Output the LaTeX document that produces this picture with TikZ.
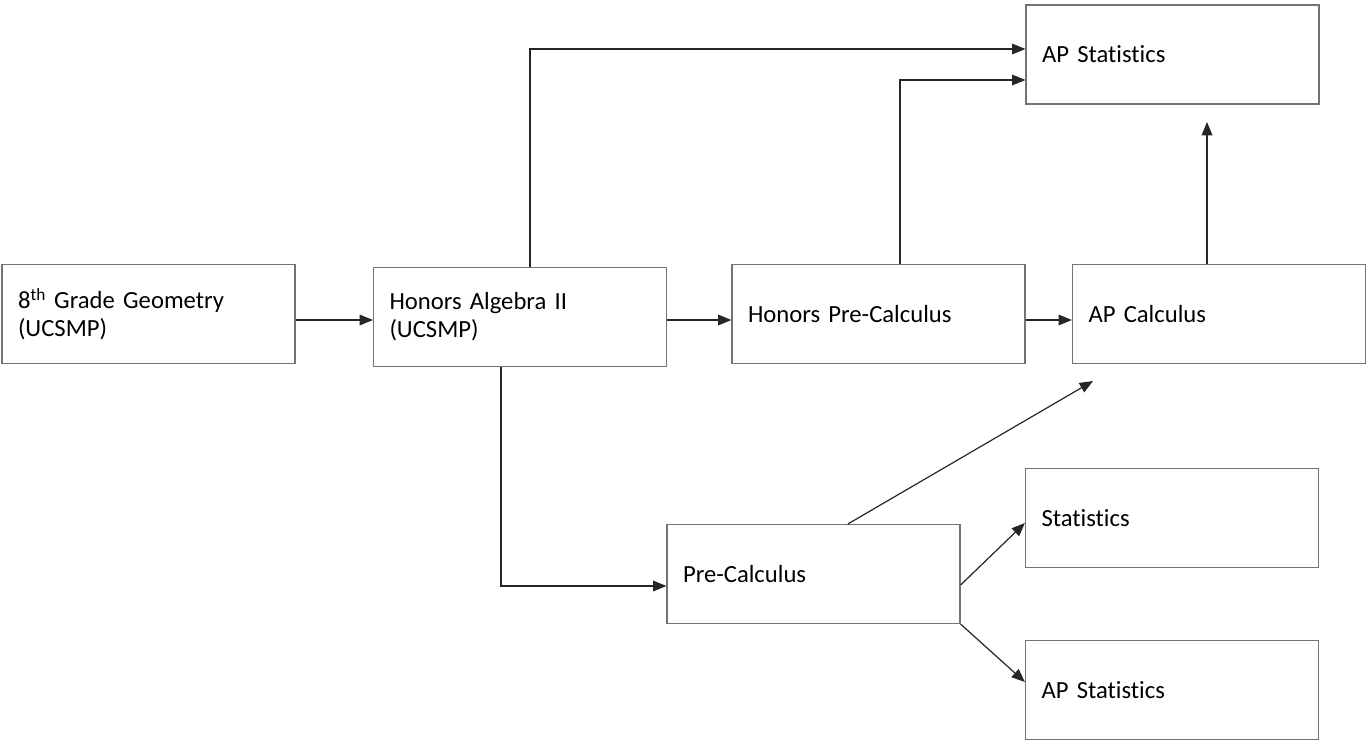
\documentclass[tikz,border=0pt]{standalone}
\usepackage{fontspec}
\setmainfont{Carlito}[Ligatures=NoCommon,WordSpace=0.8]
\usetikzlibrary{arrows.meta}
\begin{document}
\begin{tikzpicture}[x=0.75pt,y=-0.75pt,
  course/.style={draw=black!55,line width=0.9pt,rectangle,
    minimum width=219.75pt,minimum height=74.25pt,
    text width=195.75pt,align=left,inner xsep=12pt,inner ysep=0pt,
    font=\fontsize{18.5}{21}\selectfont},
  arr/.style={draw=black!85,line width=0.9pt,-{Triangle[length=10pt,width=8pt]}}]
\useasboundingbox[fill=white] (0,0) rectangle (1366,740);
% boxes
\node[course] (geo)  at (148.5,314) {8\textsuperscript{th} Grade Geometry\\(UCSMP)};
\node[course] (alg)  at (520,317)   {Honors Algebra II\\(UCSMP)};
\node[course] (hpc)  at (878.5,314) {Honors Pre-Calculus};
\node[course] (apc)  at (1219,314)  {AP Calculus};
\node[course] (aps1) at (1172.5,54.5)   {AP Statistics};
\node[course] (pc)   at (813.5,574) {Pre-Calculus};
\node[course] (st)   at (1172,518)  {Statistics};
\node[course] (aps2) at (1172,690)  {AP Statistics};
% free ends
\coordinate (apcup) at (1207,122);
\coordinate (pcup) at (1093,381);
% connectors
\draw[arr] (geo.east |- 0,320) -- (alg.west |- 0,320);
\draw[arr] (alg.east |- 0,320) -- (hpc.west |- 0,320);
\draw[arr] (hpc.east |- 0,320) -- (apc.west |- 0,320);
\draw[arr] (alg.north -| 530,0) |- (aps1.west |- 0,49);
\draw[arr] (hpc.north -| 900,0) |- (aps1.west |- 0,80);
\draw[arr] (apc.north -| apcup) -- (apcup);
\draw[arr] (alg.south -| 501,0) |- (pc.west |- 0,586);
\draw[arr] (pc.north -| 848,0) -- (pcup);
\draw[arr] (pc.east |- 0,585) -- (st.west |- 0,523);
\draw[arr] (pc.south east) -- (aps2.west |- 0,682);
\end{tikzpicture}
\end{document}
